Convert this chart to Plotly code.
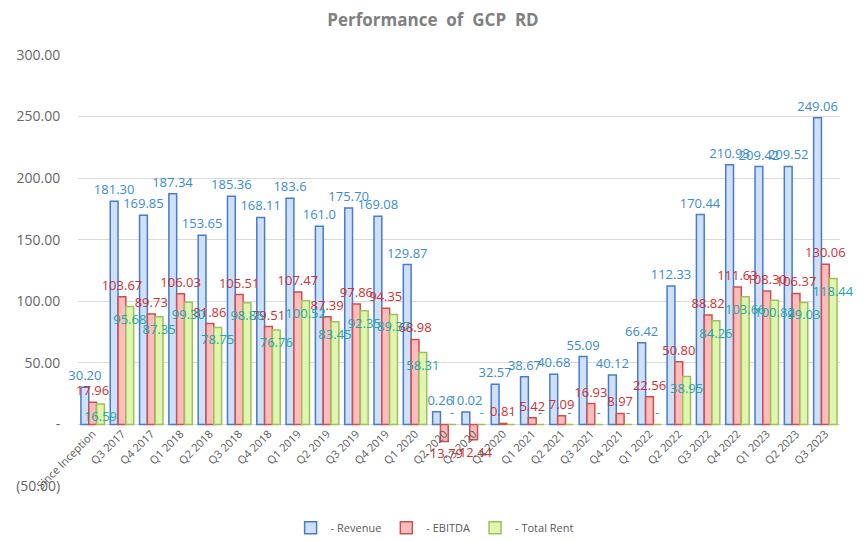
import plotly.graph_objects as go

categories = ["Since Inception", "Q3 2017", "Q4 2017", "Q1 2018", "Q2 2018", "Q3 2018", "Q4 2018",
              "Q1 2019", "Q2 2019", "Q3 2019", "Q4 2019", "Q1 2020", "Q2 2020", "Q3 2020", "Q4 2020",
              "Q1 2021", "Q2 2021", "Q3 2021", "Q4 2021", "Q1 2022", "Q2 2022", "Q3 2022", "Q4 2022",
              "Q1 2023", "Q2 2023", "Q3 2023"]

revenue = [30.20, 181.30, 169.85, 187.34, 153.65, 185.36, 168.11, 183.60, 161.00, 175.70, 169.08, 129.87,
           10.26, 10.02, 32.57, 38.67, 40.68, 55.09, 40.12, 66.42, 112.33, 170.44, 210.93, 209.42,
           209.52, 249.06]

ebitda = [17.96, 103.67, 89.73, 106.03, 81.86, 105.51, 79.51, 107.47, 87.39, 97.86, 94.35, 68.98,
          -13.79, -12.44, 0.81, 5.42, 7.09, 16.93, 8.97, 22.56, 50.80, 88.82, 111.63, 108.30,
          106.37, 130.06]

total_rent = [16.59, 95.68, 87.35, 99.30, 78.75, 98.86, 76.76, 100.52, 83.45, 92.35, 89.37, 58.31,
              None, None, None, None, None, None, None, None, 38.95, 84.26, 103.66, 100.82,
              99.03, 118.44]

y_ticks = [-50, 0, 50, 100, 150, 200, 250, 300]
y_tick_labels = ["(50.00)", "-", "50.00", "100.00", "150.00", "200.00", "250.00", "300.00"]

rev_text = [f"{v:.2f}" for v in revenue]
rev_text[7] = "183.6"
rev_text[8] = "161.0"
ebitda_text = [f"{v:.2f}" for v in ebitda]
rent_vals = [v if v is not None else 0 for v in total_rent]
rent_text = [f"{v:.2f}" if v is not None else "-" for v in total_rent]
rent_pos = ["inside" if v is not None else "outside" for v in total_rent]

font_family = "Open Sans, Noto Sans, DejaVu Sans, sans-serif"
label_size = 13

fig = go.Figure()
fig.add_trace(go.Bar(
    name="- Revenue", x=categories, y=revenue,
    marker=dict(color="#cfe0fa", line=dict(color="#4a7bc8", width=1.5)),
    text=rev_text, textposition="outside", cliponaxis=False, constraintext="none", textangle=0,
    textfont=dict(color="#3a8bd2", size=label_size, family=font_family),
))
fig.add_trace(go.Bar(
    name="- EBITDA", x=categories, y=ebitda,
    marker=dict(color="#ffbcbc", line=dict(color="#c9514e", width=1.5)),
    text=ebitda_text, textposition="outside", cliponaxis=False, constraintext="none", textangle=0,
    textfont=dict(color="#d03030", size=label_size, family=font_family),
))
fig.add_trace(go.Bar(
    name="- Total Rent", x=categories, y=rent_vals,
    marker=dict(color="#e0f5b0", line=dict(color="#9cc25a", width=1.5)),
    text=rent_text, textposition=rent_pos, insidetextanchor="end", cliponaxis=False,
    constraintext="none", textangle=0,
    textfont=dict(color="#22a7a7", size=label_size, family=font_family),
    insidetextfont=dict(color="#22a7a7", size=label_size, family=font_family),
    outsidetextfont=dict(color="#22a7a7", size=label_size, family=font_family),
))

# page body has an 8px default margin, so the figure is sized/placed to compensate
W, H = 859, 533
y_min, y_max = -50, 300
fig.update_layout(
    width=W, height=H,
    paper_bgcolor="white", plot_bgcolor="white",
    margin=dict(l=70, r=27, t=47, b=55, autoexpand=False),
    barmode="group", bargap=0.2, bargroupgap=0.0,
    font=dict(family=font_family, color="#595959", size=12),
    title=dict(text="<b>Performance  of  GCP  RD</b>", x=(433 - 8) / W, xanchor="center",
               y=1 - 12 / H, yanchor="middle",
               font=dict(size=17, color="#808080", family=font_family)),
    legend=dict(orientation="h", x=0.468, xanchor="center", y=-0.097, yanchor="middle",
                font=dict(size=11, color="#595959"), traceorder="normal", itemwidth=30),
)
fig.update_xaxes(
    type="category", tickangle=-45, showgrid=False, showline=False, ticks="",
    anchor="free", position=(0 - y_min) / (y_max - y_min),
    tickfont=dict(size=11, color="#595959"), automargin=False,
)
fig.update_yaxes(
    range=[y_min, y_max], tickvals=y_ticks, ticktext=y_tick_labels,
    showgrid=True, gridcolor="#d9d9d9", gridwidth=1, zeroline=False, showline=False,
    ticks="outside", ticklen=14, tickcolor="rgba(0,0,0,0)",
    tickfont=dict(size=14, color="#666666"), automargin=False,
)

fig.write_html("out.html")
